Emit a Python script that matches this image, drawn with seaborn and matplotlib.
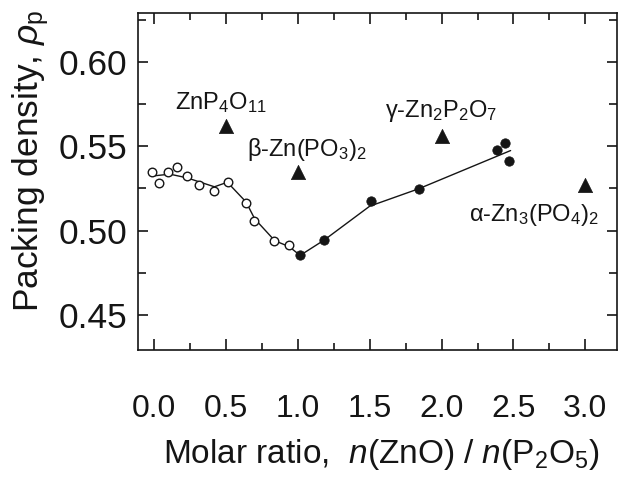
import matplotlib
matplotlib.use("Agg")
import matplotlib.pyplot as plt
from matplotlib.ticker import MultipleLocator, FormatStrFormatter
import pandas as pd
import seaborn as sns

# Glasses with ZnO/P2O5 below ~1 (open symbols)
open_ratio = [-0.016, 0.035, 0.100, 0.162, 0.227, 0.315, 0.420, 0.513, 0.638, 0.696, 0.835, 0.940]
open_density = [0.5347, 0.5284, 0.5347, 0.5379, 0.5323, 0.5268, 0.5238, 0.5287, 0.5165, 0.5060, 0.4938, 0.4914]

# Glasses with ZnO/P2O5 of ~1 and above (filled symbols)
filled_ratio = [1.016, 1.185, 1.508, 1.841, 2.385, 2.438, 2.471]
filled_density = [0.4853, 0.4942, 0.5175, 0.5248, 0.5481, 0.5517, 0.5412]

# Guide line through the glass data
trend_ratio = [0.0, 0.11, 0.23, 0.42, 0.51, 0.64, 0.70, 0.84, 0.94, 1.016, 1.185, 1.50, 1.84, 2.48]
trend_density = [0.5325, 0.5335, 0.5313, 0.5260, 0.5287, 0.5170, 0.5070, 0.4940, 0.4905, 0.4853, 0.4945, 0.5145, 0.5248, 0.5475]

# Crystalline zinc phosphates
crystal_ratio = [0.5, 1.0, 2.0, 3.0]
crystal_density = [0.562, 0.535, 0.556, 0.527]
crystal_names = ["ZnP$_4$O$_{11}$", "β-Zn(PO$_3$)$_2$", "γ-Zn$_2$P$_2$O$_7$", "α-Zn$_3$(PO$_4$)$_2$"]
# label offsets from each triangle, in points
crystal_label_offsets = [(-3.6, 17.0), (6.7, 15.6), (-0.7, 18.5), (-37.0, -21.6)]

x_ticks = [0.0, 0.5, 1.0, 1.5, 2.0, 2.5, 3.0]
y_ticks = [0.45, 0.50, 0.55, 0.60]

sns.set_theme(style="ticks")
plt.rcParams["font.family"] = ["Liberation Sans", "DejaVu Sans"]
plt.rcParams["mathtext.fontset"] = "custom"
plt.rcParams["mathtext.rm"] = "Liberation Sans"
plt.rcParams["mathtext.it"] = "Liberation Sans:italic"
plt.rcParams["mathtext.bf"] = "Liberation Sans:bold"
plt.rcParams["mathtext.default"] = "regular"

ink = "#151515"

fig = plt.figure(figsize=(6.18, 4.82), dpi=100)
ax = fig.add_axes([0.2225, 0.2739, 0.7759, 0.6981])

sns.lineplot(x=trend_ratio, y=trend_density, color=ink, linewidth=1.0,
             sort=False, ax=ax, zorder=2)
sns.scatterplot(x=open_ratio, y=open_density, marker="o", s=38, color="white",
                edgecolor=ink, linewidth=1.0, ax=ax, zorder=3)
sns.scatterplot(x=filled_ratio, y=filled_density, marker="o", s=46, color=ink,
                edgecolor=ink, linewidth=0.5, ax=ax, zorder=3)
sns.scatterplot(x=crystal_ratio, y=crystal_density, marker="^", s=105, color=ink,
                edgecolor=ink, linewidth=0.5, ax=ax, zorder=3)

for name, x, y, off in zip(crystal_names, crystal_ratio, crystal_density, crystal_label_offsets):
    ax.annotate(name, xy=(x, y), xytext=off, textcoords="offset points",
                ha="center", va="center", fontsize=17, color=ink)

ax.set_xlim(-0.115, 3.22)
ax.set_ylim(0.4292, 0.6288)
ax.set_xticks(x_ticks)
ax.set_yticks(y_ticks)
ax.xaxis.set_minor_locator(MultipleLocator(0.25))
ax.yaxis.set_minor_locator(MultipleLocator(0.025))
ax.xaxis.set_major_formatter(FormatStrFormatter("%.1f"))
ax.yaxis.set_major_formatter(FormatStrFormatter("%.2f"))

ax.tick_params(which="both", direction="in", top=True, right=True,
               color=ink, width=1.2)
ax.tick_params(axis="x", which="major", length=8, pad=32, labelsize=23, labelcolor=ink)
ax.tick_params(axis="x", which="minor", length=5)
ax.tick_params(axis="y", which="major", length=7, pad=7.5, labelsize=25.5, labelcolor=ink)
ax.tick_params(axis="y", which="minor", length=6)

for sp in ax.spines.values():
    sp.set_visible(True)
    sp.set_linewidth(1.2)
    sp.set_color(ink)

ax.set_xlabel("Molar ratio,  $\\mathit{n}$(ZnO) / $\\mathit{n}$(P$_2$O$_5$)",
              fontsize=24, color=ink)
ax.set_ylabel("Packing density, $\\mathit{\\rho}_\\mathregular{p}$",
              fontsize=25.5, color=ink)
ax.xaxis.set_label_coords(0.508, -0.258)
ax.yaxis.set_label_coords(-0.18, 0.563)

fig.savefig("out.png", dpi=100)
